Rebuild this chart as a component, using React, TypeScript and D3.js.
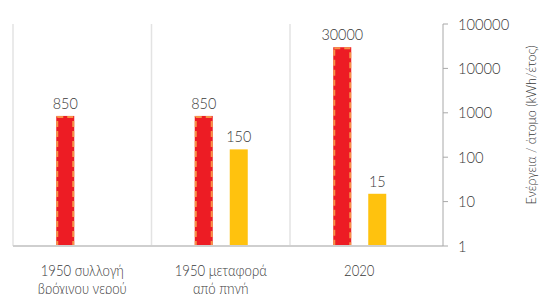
import React from "react";
import * as d3 from "d3";

const CATEGORIES = [["1950 συλλογή", "βρόχινου νερού"], ["1950 μεταφορά", "από πηγή"], ["2020"]];
const RED_VALUES = [850, 850, 30000];
const YELLOW_VALUES: (number | null)[] = [null, 150, 15];
const TICKS = [1, 10, 100, 1000, 10000, 100000];
const Y_LABEL = "Ενέργεια / άτομο (kWh/έτος)";

const W = 540;
const H = 294;
const FONT = "Lato, 'Noto Sans', sans-serif";
const TXT = "#3a3a3a";

export default function App() {
  const left = 13;
  const bandRight = 428.5;
  const axisX = 443;
  const baseY = 246;

  const x = d3.scaleBand<number>().domain(CATEGORIES.map((_, i) => i)).range([left, bandRight]);
  const y = d3.scaleLog().domain([1, 100000]).range([baseY, 24]);
  const barW = 18;
  const redOff = -17;
  const yelOff = 18;

  return (
    <svg width={W} height={H} style={{ position: "absolute", left: 0, top: 0, background: "#fff" }}
      fontFamily={FONT} fontWeight={300}>
      {/* category separators */}
      {CATEGORIES.map((_, i) => (
        <line key={"s" + i} x1={x(i)!} x2={x(i)!} y1={24} y2={baseY} stroke="#e3e3e3" strokeWidth={1.5} />
      ))}
      {/* bars */}
      {RED_VALUES.map((v, i) => {
        const cx = x(i)! + x.bandwidth() / 2 + redOff;
        return (
          <g key={"r" + i}>
            <rect x={cx - barW / 2} y={y(v)} width={barW} height={baseY - y(v)} fill="#ED1C24" />
            <rect x={cx - barW / 2 + 1} y={y(v) + 1} width={barW - 2} height={baseY - y(v) - 1}
              fill="none" stroke="#F7A04B" strokeWidth={2} strokeDasharray="6,4" opacity={0.9} />
            <text transform={`translate(${cx},${y(v) - 7}) scale(0.9,1)`} textAnchor="middle" fontSize={16} fill={TXT}>{v}</text>
          </g>
        );
      })}
      {YELLOW_VALUES.map((v, i) => {
        if (v == null) return null;
        const cx = x(i)! + x.bandwidth() / 2 + yelOff;
        return (
          <g key={"y" + i}>
            <rect x={cx - barW / 2} y={y(v)} width={barW} height={baseY - y(v)} fill="#FFC20E" />
            <text transform={`translate(${cx},${y(v) - 7}) scale(0.9,1)`} textAnchor="middle" fontSize={16} fill={TXT}>{v}</text>
          </g>
        );
      })}
      {/* baseline */}
      <line x1={left} x2={axisX} y1={baseY} y2={baseY} stroke="#cfcfcf" strokeWidth={2} />
      {/* right axis */}
      <line x1={axisX} x2={axisX} y1={y(100000)} y2={baseY} stroke="#a8a8a8" strokeWidth={1} />
      {TICKS.map((t) => (
        <g key={"t" + t}>
          <line x1={axisX} x2={axisX + 5} y1={y(t)} y2={y(t)} stroke="#a8a8a8" />
          <text transform={`translate(458,${y(t)}) scale(0.92,1)`} dy="0.35em" fontSize={16} fill={TXT}>{t}</text>
        </g>
      ))}
      <text transform={`translate(536,125) rotate(-90) scale(0.9,1)`} textAnchor="middle" fontSize={14} fill={TXT}>
        {Y_LABEL}
      </text>
      {/* category labels */}
      {CATEGORIES.map((lines, i) => (
        <text key={"c" + i} transform={`translate(${x(i)! + x.bandwidth() / 2},276) scale(0.82,1)`}
          textAnchor="middle" fontSize={16} fill={TXT}>
          {lines.map((l, j) => (
            <tspan key={j} x={0} dy={j === 0 ? 0 : 18}>{l}</tspan>
          ))}
        </text>
      ))}
    </svg>
  );
}
